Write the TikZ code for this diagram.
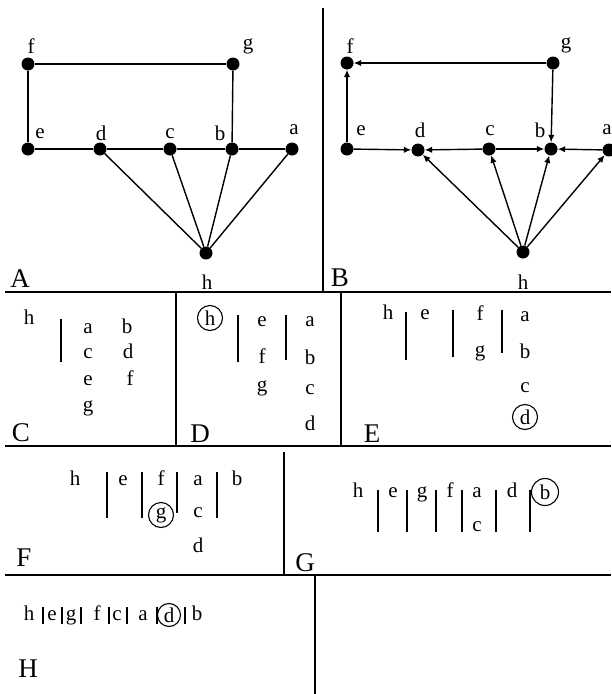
\documentclass[tikz,border=0pt]{standalone}
\usepackage{fontspec}
\setmainfont{Liberation Serif}
\usetikzlibrary{arrows.meta}
\begin{document}
\begin{tikzpicture}[x=1pt,y=-1pt,
  vtx/.style={circle,fill=black,inner sep=0pt,minimum size=13pt},
  lbl/.style={inner sep=0pt,font=\fontsize{21}{23}\selectfont},
  tx/.style={inner sep=0pt,anchor=base,font=\fontsize{21}{23}\selectfont},
  big/.style={inner sep=0pt,font=\fontsize{27}{29}\selectfont},
  ring/.style={draw,circle,inner sep=0pt,minimum size=25pt,line width=1.1pt,font=\fontsize{21}{23}\selectfont},
  lnk/.style={line width=1.4pt},
  arr/.style={lnk,-{Latex[length=7.5pt,width=6.5pt]}},
  rule/.style={line width=1.8pt},
  vbar/.style={line width=1.5pt}]
\useasboundingbox (0,0) rectangle (611,694);
\fill[white] (0,0) rectangle (611,694);

% ---------- frame ----------
\draw[rule] (5,292) -- (611,292);
\draw[rule] (5,446) -- (611,446);
\draw[rule] (5,575) -- (611,575);
\draw[rule] (323,8) -- (323,292);
\draw[rule] (176,292) -- (176,446);
\draw[rule] (341,292) -- (341,446);
\draw[rule] (284,452) -- (284,575);
\draw[rule] (315,575) -- (315,694);

% ---------- panel A ----------
\node[vtx] (af) at (28,64) {};
\node[vtx] (ag) at (233,64) {};
\node[vtx] (ae) at (28,149) {};
\node[vtx] (ad) at (100,149) {};
\node[vtx] (ac) at (170,149) {};
\node[vtx] (ab) at (232,149) {};
\node[vtx] (aa) at (292,149) {};
\node[vtx] (ah) at (206,253) {};
\draw[lnk] (af) -- (ag);
\draw[lnk] (af) -- (ae);
\draw[lnk] (ag) -- (ab);
\draw[lnk] (ae) -- (ad);
\draw[lnk] (ad) -- (ac);
\draw[lnk] (ac) -- (ab);
\draw[lnk] (ab) -- (aa);
\draw[lnk] (ah) -- (ad);
\draw[lnk] (ah) -- (ac);
\draw[lnk] (ah) -- (ab);
\draw[lnk] (ah) -- (aa);
\node[lbl] (laf) at (31,46) {f};
\node[lbl] (lag) at (248,46) {g};
\node[lbl] (lae) at (40,134) {e};
\node[lbl] (lad) at (101,133) {d};
\node[lbl] (lac) at (170,134) {c};
\node[lbl] (lab) at (220,133) {b};
\node[lbl] (laa) at (294,130) {a};
\node[lbl] (lah) at (207,282) {h};
\node[big] (lA) at (20,279) {A};

% ---------- panel B ----------
\node[vtx] (bf) at (347,63) {};
\node[vtx] (bg) at (553,63) {};
\node[vtx] (be) at (347,149) {};
\node[vtx] (bd) at (418,150) {};
\node[vtx] (bc) at (489,149) {};
\node[vtx] (bb) at (551,149) {};
\node[vtx] (ba) at (609,150) {};
\node[vtx] (bh) at (523,252) {};
\draw[arr] (bg) -- (bf);
\draw[arr] (be) -- (bf);
\draw[arr] (bg) -- (bb);
\draw[arr] (be) -- (bd);
\draw[arr] (bc) -- (bd);
\draw[arr] (bc) -- (bb);
\draw[arr] (ba) -- (bb);
\draw[arr] (bh) -- (bd);
\draw[arr] (bh) -- (bc);
\draw[arr] (bh) -- (bb);
\draw[arr] (bh) -- (ba);
\node[lbl] (lbf) at (350,46) {f};
\node[lbl] (lbg) at (566,45) {g};
\node[lbl] (lbe) at (361,131) {e};
\node[lbl] (lbd) at (420,130) {d};
\node[lbl] (lbc) at (490,131) {c};
\node[lbl] (lbb) at (540,130) {b};
\node[lbl] (lba) at (607,130) {a};
\node[lbl] (lbh) at (523,282) {h};
\node[big] (lB) at (340,278) {B};

% ---------- panel C ----------
\node[tx] (ch) at (29,324) {h};
\draw[vbar] (61,319) -- (61,362);
\node[tx] (ca) at (88,333) {a};
\node[tx] (cb) at (127,333) {b};
\node[tx] (cc) at (88,358) {c};
\node[tx] (cd) at (128,358) {d};
\node[tx] (ce) at (88,385) {e};
\node[tx] (cf) at (130,385) {f};
\node[tx] (cg) at (88,411) {g};
\node[big] (lC) at (21,433) {C};

% ---------- panel D ----------
\node[ring] (dh) at (210,318) {h};
\draw[vbar] (238,315) -- (238,362);
\node[tx] (de) at (262,326) {e};
\draw[vbar] (286,315) -- (286,360);
\node[tx] (da) at (310,326) {a};
\node[tx] (df) at (262,363) {f};
\node[tx] (db) at (310,364) {b};
\node[tx] (dg) at (262,391) {g};
\node[tx] (dc) at (310,394) {c};
\node[tx] (dd) at (310,430) {d};
\node[big] (lD) at (200,434) {D};

% ---------- panel E ----------
\node[tx] (eh) at (388,319) {h};
\draw[vbar] (406,312) -- (406,360);
\node[tx] (ee) at (425,319) {e};
\draw[vbar] (453,310) -- (453,357);
\node[tx] (ef) at (480,320) {f};
\node[tx] (eg) at (480,356) {g};
\draw[vbar] (502,310) -- (502,353);
\node[tx] (ea) at (525,321) {a};
\node[tx] (eb) at (525,358) {b};
\node[tx] (ec) at (525,392) {c};
\node[ring] (ed) at (525,417) {d};
\node[big] (lE) at (372,434) {E};

% ---------- panel F ----------
\node[tx] (fh) at (75,485) {h};
\draw[vbar] (107,472) -- (107,518);
\node[tx] (fe) at (123,485) {e};
\draw[vbar] (142,472) -- (142,518);
\node[tx] (ff) at (161,485) {f};
\node[ring] (fg) at (161,515) {g};
\draw[vbar] (177,472) -- (177,513);
\node[tx] (fa) at (198,485) {a};
\node[tx] (fc) at (198,517) {c};
\node[tx] (fd) at (198,552) {d};
\draw[vbar] (217,472) -- (217,518);
\node[tx] (fb) at (237,485) {b};
\node[big] (lF) at (24,558) {F};

% ---------- panel G ----------
\node[tx] (gh) at (358,497) {h};
\draw[vbar] (378,490) -- (378,532);
\node[tx] (ge) at (393,497) {e};
\draw[vbar] (407,490) -- (407,532);
\node[tx] (gg) at (422,497) {g};
\draw[vbar] (436,490) -- (436,532);
\node[tx] (gf) at (450,497) {f};
\draw[vbar] (462,490) -- (462,532);
\node[tx] (ga) at (477,497) {a};
\node[tx] (gc) at (477,531) {c};
\draw[vbar] (496,490) -- (496,532);
\node[tx] (gd) at (512,497) {d};
\draw[vbar] (530,490) -- (530,532);
\node[ring,minimum size=27pt] (gb) at (545,492) {b};
\node[big] (lG) at (305,563) {G};

% ---------- panel H ----------
\node[tx] (hh) at (29,620) {h};
\draw[vbar] (43,607) -- (43,624);
\node[tx] (he) at (52,620) {e};
\draw[vbar] (62,607) -- (62,624);
\node[tx] (hg) at (71,620) {g};
\draw[vbar] (81,607) -- (81,624);
\node[tx] (hf) at (97,620) {f};
\draw[vbar] (109,607) -- (109,624);
\node[tx] (hc) at (117,620) {c};
\draw[vbar] (127,607) -- (127,624);
\node[tx] (ha) at (143,620) {a};
\draw[vbar] (157,607) -- (157,624);
\node[ring,minimum size=23pt] (hd) at (169,615) {d};
\draw[vbar] (185,607) -- (185,624);
\node[tx] (hb) at (197,620) {b};
\node[big] (lH) at (28,669) {H};
\end{tikzpicture}
\end{document}
